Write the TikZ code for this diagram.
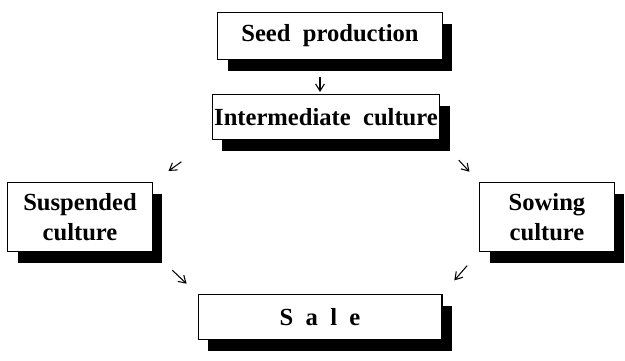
\documentclass[tikz,border=0pt]{standalone}
\usepackage{fontspec}
\setmainfont{Liberation Serif}
\usetikzlibrary{arrows.meta,shadows}
\tikzset{
>={Straight Barb[length=4pt,width=5pt]},
stadio/.style={draw,semithick,fill=white,align=center,inner sep=1pt,
  font=\bfseries\fontsize{14}{17}\selectfont,
  drop shadow={shadow xshift=0.2cm,shadow yshift=-0.23cm,fill=black,opacity=1}},
freccia/.style={->,semithick}}

\begin{document}
\begin{tikzpicture}[x=0.02cm,y=-0.02cm]
\useasboundingbox (0,0) rectangle (625,360);

\node[stadio,minimum width=4.5cm,minimum height=0.94cm] (seed) at (330,36) {Seed\ \ production};
\node[stadio,minimum width=4.42cm,minimum height=0.9cm] (inter) at (326,117) {Intermediate\ \ culture};
\node[stadio,minimum width=2.9cm,minimum height=1.38cm] (susp) at (80,217) {Suspended\\culture};
\node[stadio,minimum width=2.7cm,minimum height=1.38cm] (sow) at (547,217) {Sowing\\culture};
\node[stadio,minimum width=4.88cm,minimum height=0.9cm] (sale) at (320,317) {S\enspace a\enspace l\enspace e};

\draw[freccia,shorten <=0.34cm,shorten >=0.04cm] ([xshift=-0.2cm]seed.south) -- ([xshift=-0.2cm]seed.south |- inter.north);
\draw[freccia,shorten <=0.75cm,shorten >=0.38cm] (inter.south west) -- (susp.north east);
\draw[freccia,shorten <=0.55cm,shorten >=0.28cm] (inter.south east) -- (sow.north west);
\draw[freccia,shorten <=0.53cm,shorten >=0.3cm] (susp.south east) -- (sale.north west);
\draw[freccia,shorten <=0.36cm,shorten >=0.36cm] (sow.south west) -- (sale.north east);

\end{tikzpicture}
\end{document}
